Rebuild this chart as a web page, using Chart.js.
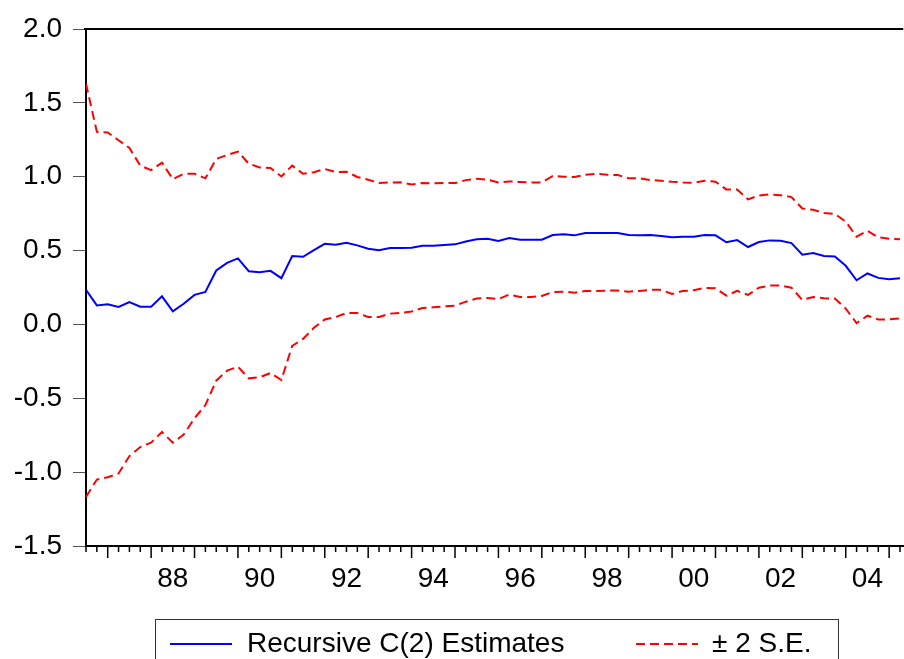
<!DOCTYPE html>
<html>
<head>
<meta charset="utf-8">
<script src="https://cdn.jsdelivr.net/npm/chart.js@4.4.0/dist/chart.umd.min.js"></script>
<style>
  html, body { margin: 0; padding: 0; background: #fff; }
  #wrap { position: relative; width: 904px; height: 659px; overflow: hidden; }
  #legend-box { position: absolute; left: 155px; top: 619px; width: 684px; height: 70px; border: 1px solid #333; box-sizing: border-box; }
  .lg { position: absolute; font-family: "Liberation Sans", Arial, sans-serif; font-size: 28px; line-height: 28px; color: #000; white-space: nowrap; }
  .sw { position: absolute; }
</style>
</head>
<body>
<div id="wrap">
  <canvas id="chart" width="904" height="659"></canvas>
  <div id="legend-box"></div>
  <svg class="sw" style="left:170px; top:640px" width="62" height="8"><line x1="0" y1="4" x2="62" y2="4" stroke="#0000ff" stroke-width="2"/></svg>
  <span class="lg" style="left:247px; top:629px">Recursive C(2) Estimates</span>
  <svg class="sw" style="left:636px; top:640px" width="62" height="8"><line x1="0" y1="4" x2="62" y2="4" stroke="#ff0000" stroke-width="2" stroke-dasharray="9,5"/></svg>
  <span class="lg" style="left:712px; top:629px">± 2 S.E.</span>
</div>
<script>
// quarterly sample 1986Q3 - 2005Q2
const quarters = [];
for (let y = 1986, q = 3; quarters.length < 76; ) {
  quarters.push(y + "Q" + q);
  q++;
  if (q > 4) { q = 1; y++; }
}

const estimate = [
  0.234, 0.129, 0.136, 0.118, 0.152, 0.120, 0.120, 0.190, 0.088, 0.140, 0.200, 0.220, 0.365, 0.417, 0.447,
  0.360, 0.354, 0.363, 0.313, 0.463, 0.458, 0.503, 0.546, 0.540, 0.553, 0.535, 0.512, 0.503, 0.517, 0.517,
  0.519, 0.533, 0.533, 0.537, 0.542, 0.562, 0.576, 0.580, 0.565, 0.585, 0.574, 0.574, 0.574, 0.605,
  0.610, 0.603, 0.619, 0.619, 0.619, 0.619, 0.605, 0.603, 0.605, 0.599, 0.590, 0.594, 0.594, 0.605, 0.603,
  0.556, 0.571, 0.524, 0.558, 0.569, 0.567, 0.551, 0.472, 0.483, 0.463, 0.460, 0.397, 0.299, 0.345, 0.315, 0.306, 0.313
];

const upperBand = [
  1.630, 1.304, 1.300, 1.247, 1.195, 1.075, 1.045, 1.095, 0.984, 1.020, 1.020, 0.989, 1.120, 1.147, 1.170,
  1.088, 1.063, 1.059, 1.002, 1.075, 1.020, 1.030, 1.052, 1.032, 1.034, 0.998, 0.980, 0.957, 0.961, 0.962,
  0.948, 0.957, 0.955, 0.957, 0.957, 0.977, 0.986, 0.980, 0.961, 0.968, 0.964, 0.961, 0.961, 1.005,
  1.000, 0.998, 1.014, 1.020, 1.014, 1.011, 0.989, 0.989, 0.977, 0.973, 0.966, 0.961, 0.959, 0.973, 0.966,
  0.914, 0.914, 0.846, 0.873, 0.880, 0.875, 0.862, 0.785, 0.776, 0.755, 0.748, 0.696, 0.594, 0.633, 0.590, 0.580, 0.576
];

const lowerBand = [
  -1.168, -1.050, -1.034, -1.009, -0.891, -0.830, -0.800, -0.728, -0.800, -0.746, -0.635, -0.546, -0.381, -0.313, -0.286,
  -0.365, -0.358, -0.329, -0.376, -0.145, -0.098, -0.023, 0.034, 0.050, 0.077, 0.077, 0.050, 0.050, 0.073, 0.078,
  0.088, 0.111, 0.116, 0.122, 0.127, 0.154, 0.175, 0.179, 0.172, 0.202, 0.186, 0.186, 0.193, 0.220,
  0.222, 0.215, 0.227, 0.227, 0.229, 0.229, 0.222, 0.227, 0.234, 0.234, 0.206, 0.227, 0.231, 0.247, 0.245,
  0.195, 0.227, 0.200, 0.249, 0.263, 0.263, 0.249, 0.166, 0.186, 0.177, 0.175, 0.107, 0.009, 0.059, 0.034, 0.034, 0.041
];

const xTickLabels = ["88", "90", "92", "94", "96", "98", "00", "02", "04"];
const yTicks = [-1.5, -1.0, -0.5, 0.0, 0.5, 1.0, 1.5, 2.0];

const toPoints = (arr) => arr.map((v, i) => ({ x: i, y: v }));

// top border + quarterly tick marks (long ones at year starts)
const frame = {
  id: "frame",
  afterDraw(chart) {
    const { ctx, chartArea: a, scales: { x } } = chart;
    ctx.save();
    ctx.strokeStyle = "#000";
    ctx.lineWidth = 2;
    ctx.beginPath();
    ctx.moveTo(a.left - 2, a.top);
    ctx.lineTo(a.right, a.top);
    ctx.stroke();
    ctx.lineWidth = 1.5;
    quarters.forEach((q, i) => {
      const px = x.getPixelForValue(i);
      const len = q.endsWith("Q1") ? 12 : 6;
      ctx.beginPath();
      ctx.moveTo(px, a.bottom);
      ctx.lineTo(px, a.bottom + len);
      ctx.stroke();
    });
    ctx.restore();
  }
};

Chart.defaults.font.family = '"Liberation Sans", Arial, sans-serif';
Chart.defaults.color = "#000";

new Chart(document.getElementById("chart"), {
  type: "line",
  data: {
    datasets: [
      { label: "Recursive C(2) Estimates", data: toPoints(estimate), borderColor: "#0000ff", borderWidth: 2 },
      { label: "± 2 S.E.", data: toPoints(upperBand), borderColor: "#ff0000", borderWidth: 2, borderDash: [9, 5] },
      { label: "lower", data: toPoints(lowerBand), borderColor: "#ff0000", borderWidth: 2, borderDash: [9, 5] }
    ]
  },
  options: {
    responsive: false,
    animation: false,
    parsing: false,
    elements: { point: { radius: 0 }, line: { tension: 0 } },
    layout: { padding: { top: 29, right: 0, bottom: 63, left: 0 } },
    plugins: { legend: { display: false }, tooltip: { enabled: false } },
    scales: {
      x: {
        type: "linear",
        min: 0,
        max: 75.3,
        afterBuildTicks: (scale) => { scale.ticks = quarters.map((q, i) => ({ value: i })); },
        afterFit: (scale) => { scale.height = 50; },
        ticks: {
          autoSkip: false,
          maxRotation: 0,
          padding: 4,
          font: { size: 28 },
          callback: (v) => {
            const q = quarters[v];
            const lab = q.slice(2, 4);
            return q.endsWith("Q3") && xTickLabels.includes(lab) ? lab : "";
          }
        },
        grid: { drawOnChartArea: false, color: "rgba(0,0,0,0)", tickLength: 12 },
        border: { color: "#000", width: 2 }
      },
      y: {
        min: -1.5,
        max: 2.0,
        afterBuildTicks: (scale) => { scale.ticks = yTicks.map((v) => ({ value: v })); },
        afterFit: (scale) => { scale.width = 86; },
        ticks: { padding: 11, font: { size: 28 }, callback: (v) => v.toFixed(1) },
        grid: { drawOnChartArea: false, color: "#555", tickLength: 13 },
        border: { color: "#000", width: 2 }
      }
    }
  },
  plugins: [frame]
});
</script>
</body>
</html>
